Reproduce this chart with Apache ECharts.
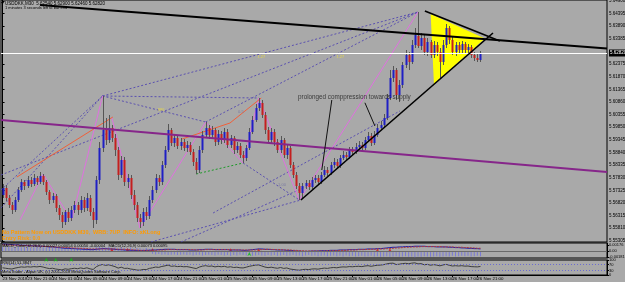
<!DOCTYPE html>
<html><head><meta charset="utf-8">
<script src="https://cdn.jsdelivr.net/npm/echarts@6/dist/echarts.min.js"></script>
<style>html,body{margin:0;padding:0;background:#a9a9a9;}#c{width:625px;height:282px;}</style>
</head><body><div id="c"></div>
<script>
// ---------- DATA ----------
const timeLabels = ["23 Nov 2018","23 Nov 21:00","24 Nov 01:00","24 Nov 05:00","24 Nov 09:00","24 Nov 13:00","24 Nov 17:00","24 Nov 21:00","25 Nov 01:00","25 Nov 05:00","25 Nov 09:00","25 Nov 13:00","25 Nov 17:00","25 Nov 21:00","26 Nov 01:00","26 Nov 05:00","26 Nov 09:00","26 Nov 13:00","26 Nov 17:00","26 Nov 21:00"];
const priceTicks = [5.64900,5.64395,5.63890,5.63385,5.62375,5.61870,5.61365,5.60860,5.60355,5.59850,5.59345,5.58840,5.58335,5.57830,5.57325,5.56820,5.56315,5.55810,5.55305];
const macdTicks = [0.00176, 0, -0.00181];
const rsiTicks = [100, 70, 30, 0];
// [open, close, low, high]
const candles = [
[5.5714,5.5742,5.5702,5.5758],[5.5742,5.5702,5.5690,5.5754],[5.5702,5.5674,5.5662,5.5714],[5.5674,5.5654,5.5638,5.5686],[5.5654,5.5694,5.5646,5.5706],
[5.5694,5.5734,5.5686,5.5746],[5.5734,5.5766,5.5726,5.5778],[5.5766,5.5750,5.5734,5.5774],[5.5750,5.5774,5.5742,5.5790],[5.5774,5.5758,5.5746,5.5786],
[5.5758,5.5782,5.5750,5.5798],[5.5782,5.5766,5.5754,5.5790],[5.5766,5.5790,5.5758,5.5806],[5.5790,5.5766,5.5754,5.5798],[5.5766,5.5726,5.5714,5.5774],
[5.5726,5.5694,5.5678,5.5734],[5.5694,5.5710,5.5682,5.5722],[5.5710,5.5662,5.5646,5.5718],[5.5662,5.5634,5.5614,5.5674],[5.5634,5.5606,5.5582,5.5646],
[5.5606,5.5646,5.5594,5.5654],[5.5646,5.5622,5.5606,5.5662],[5.5622,5.5654,5.5610,5.5670],[5.5654,5.5674,5.5642,5.5690],[5.5674,5.5654,5.5634,5.5686],
[5.5654,5.5694,5.5642,5.5710],[5.5694,5.5662,5.5646,5.5706],[5.5662,5.5702,5.5650,5.5722],[5.5702,5.5646,5.5630,5.5714],[5.5646,5.5614,5.5582,5.5662],
[5.5614,5.5774,5.5598,5.5790],[5.5774,5.5902,5.5758,5.5926],[5.5902,5.5974,5.5886,5.6110],[5.5974,5.5934,5.5914,5.6022],[5.5934,5.5982,5.5922,5.6034],
[5.5982,5.5942,5.5926,5.5994],[5.5942,5.5894,5.5870,5.5958],[5.5894,5.5794,5.5774,5.5906],[5.5794,5.5854,5.5782,5.5870],[5.5854,5.5766,5.5750,5.5866],
[5.5766,5.5782,5.5742,5.5798],[5.5782,5.5714,5.5698,5.5794],[5.5714,5.5674,5.5654,5.5734],[5.5674,5.5622,5.5606,5.5686],[5.5622,5.5606,5.5582,5.5638],
[5.5606,5.5646,5.5590,5.5662],[5.5646,5.5630,5.5614,5.5666],[5.5630,5.5694,5.5618,5.5710],[5.5694,5.5734,5.5682,5.5750],[5.5734,5.5782,5.5722,5.5798],
[5.5782,5.5766,5.5750,5.5794],[5.5766,5.5834,5.5754,5.5850],[5.5834,5.5894,5.5822,5.5910],[5.5894,5.5974,5.5886,5.5998],[5.5974,5.5922,5.5910,5.5982],
[5.5922,5.5942,5.5906,5.5958],[5.5942,5.5910,5.5898,5.5954],[5.5910,5.5926,5.5894,5.5942],[5.5926,5.5902,5.5890,5.5938],[5.5902,5.5914,5.5886,5.5930],
[5.5914,5.5886,5.5874,5.5926],[5.5886,5.5846,5.5830,5.5898],[5.5846,5.5814,5.5798,5.5862],[5.5814,5.5894,5.5802,5.5910],[5.5894,5.5954,5.5882,5.5970],
[5.5954,5.5982,5.5942,5.6006],[5.5982,5.5954,5.5938,5.5994],[5.5954,5.5974,5.5942,5.5990],[5.5974,5.5926,5.5910,5.5982],[5.5926,5.5958,5.5914,5.5974],
[5.5958,5.5934,5.5918,5.5970],[5.5934,5.5966,5.5922,5.5982],[5.5966,5.5914,5.5902,5.5978],[5.5914,5.5942,5.5902,5.5954],[5.5942,5.5894,5.5878,5.5950],
[5.5894,5.5910,5.5882,5.5926],[5.5910,5.5874,5.5862,5.5922],[5.5874,5.5862,5.5842,5.5890],[5.5862,5.5902,5.5850,5.5914],[5.5902,5.5966,5.5894,5.5982],
[5.5966,5.6014,5.5958,5.6030],[5.6014,5.6062,5.6006,5.6078],[5.6062,5.6082,5.6050,5.6102],[5.6082,5.6034,5.6022,5.6094],[5.6034,5.5974,5.5958,5.6046],
[5.5974,5.5934,5.5922,5.5986],[5.5934,5.5966,5.5922,5.5982],[5.5966,5.5926,5.5910,5.5978],[5.5926,5.5894,5.5882,5.5938],[5.5894,5.5934,5.5882,5.5950],
[5.5934,5.5874,5.5862,5.5942],[5.5874,5.5902,5.5858,5.5914],[5.5902,5.5834,5.5822,5.5910],[5.5834,5.5794,5.5782,5.5846],[5.5794,5.5750,5.5738,5.5806],
[5.5750,5.5722,5.5694,5.5762],[5.5722,5.5750,5.5698,5.5762],[5.5750,5.5762,5.5738,5.5774],[5.5762,5.5746,5.5734,5.5774],[5.5746,5.5774,5.5738,5.5786],
[5.5774,5.5782,5.5762,5.5794],[5.5782,5.5766,5.5754,5.5794],[5.5766,5.5794,5.5758,5.5806],[5.5794,5.5814,5.5786,5.5830],[5.5814,5.5802,5.5790,5.5826],
[5.5802,5.5834,5.5794,5.5846],[5.5834,5.5846,5.5822,5.5862],[5.5846,5.5830,5.5818,5.5858],[5.5830,5.5862,5.5822,5.5874],[5.5862,5.5874,5.5854,5.5890],
[5.5874,5.5866,5.5854,5.5886],[5.5866,5.5894,5.5858,5.5906],[5.5894,5.5886,5.5874,5.5906],[5.5886,5.5906,5.5878,5.5922],[5.5906,5.5914,5.5898,5.5930],
[5.5914,5.5902,5.5894,5.5926],[5.5902,5.5934,5.5894,5.5946],[5.5934,5.5950,5.5926,5.5966],[5.5950,5.5922,5.5910,5.5962],[5.5922,5.5954,5.5914,5.5970],
[5.5954,5.5982,5.5946,5.5998],[5.5982,5.5994,5.5974,5.6010],[5.5994,5.6022,5.5986,5.6038],[5.6022,5.6102,5.6014,5.6118],[5.6102,5.6182,5.6094,5.6214],
[5.6182,5.6214,5.6166,5.6230],[5.6214,5.6114,5.6094,5.6222],[5.6114,5.6154,5.6086,5.6174],[5.6154,5.6234,5.6142,5.6246],[5.6234,5.6274,5.6222,5.6294],
[5.6274,5.6246,5.6214,5.6286],[5.6246,5.6314,5.6238,5.6334],[5.6314,5.6354,5.6302,5.6382],[5.6350,5.6310,5.6302,5.6446],[5.6310,5.6342,5.6294,5.6362],
[5.6342,5.6286,5.6274,5.6354],[5.6286,5.6326,5.6270,5.6342],[5.6326,5.6274,5.6262,5.6334],[5.6274,5.6314,5.6262,5.6330],[5.6314,5.6286,5.6270,5.6326],
[5.6286,5.6246,5.6182,5.6302],[5.6246,5.6314,5.6234,5.6334],[5.6314,5.6382,5.6302,5.6398],[5.6382,5.6334,5.6318,5.6390],[5.6334,5.6286,5.6274,5.6350],
[5.6286,5.6314,5.6270,5.6326],[5.6314,5.6294,5.6282,5.6326],[5.6294,5.6318,5.6282,5.6330],[5.6318,5.6294,5.6282,5.6326],[5.6294,5.6306,5.6282,5.6318],
[5.6306,5.6274,5.6262,5.6314],[5.6274,5.6262,5.6250,5.6286],[5.6262,5.6254,5.6246,5.6278],[5.6254,5.6282,5.6246,5.6290]
];
const macdHist = [
0.0012,0.0011,0.0013,0.0010,0.0012,0.0014,0.0011,0.0012,0.0013,0.0010,
0.0011,0.0012,0.0013,0.0011,0.0010,0.0012,0.0009,0.0011,0.0010,0.0012,
0.0009,0.0011,0.0010,0.0008,0.0010,0.0009,0.0011,0.0008,0.0010,0.0009,
0.0012,0.0013,0.0011,0.0010,0.0012,0.0009,0.0011,0.0008,0.0010,0.0009,
0.0008,0.0010,0.0007,0.0009,0.0008,0.0007,0.0009,0.0006,-0.0008,-0.0010,
-0.0009,-0.0011,-0.0010,-0.0012,-0.0011,-0.0010,-0.0012,-0.0011,-0.0010,-0.0012,
-0.0011,-0.0013,-0.0012,-0.0011,-0.0013,-0.0012,-0.0011,-0.0012,-0.0013,-0.0011,
-0.0012,-0.0013,-0.0012,-0.0014,-0.0012,-0.0013,-0.0011,-0.0012,-0.0013,-0.0012,
-0.0014,-0.0013,-0.0012,-0.0013,-0.0014,-0.0012,-0.0013,-0.0012,-0.0014,-0.0013,
-0.0012,-0.0014,-0.0013,-0.0012,-0.0014,-0.0013,-0.0015,-0.0013,-0.0012,-0.0014,
-0.0013,-0.0015,-0.0014,-0.0013,-0.0015,-0.0014,-0.0013,-0.0015,-0.0014,-0.0016,
-0.0013,-0.0015,-0.0014,-0.0016,-0.0015,-0.0014,-0.0016,-0.0015,-0.0014,-0.0016,
-0.0015,-0.0017,-0.0016,-0.0015,-0.0017,-0.0016,-0.0015,-0.0017,-0.0016,-0.0015,
-0.0017,-0.0016,-0.0018,-0.0016,-0.0017,-0.0015,-0.0016,-0.0017,-0.0016,-0.0015,
-0.0017,-0.0016,-0.0015,-0.0016,-0.0014,-0.0016,-0.0015,-0.0014,-0.0015,-0.0014,
-0.0016,-0.0015,-0.0014,-0.0015];
const macdMain = [
0.0020,0.0020,0.0019,0.0019,0.0018,0.0018,0.0017,0.0017,0.0016,0.0016,
0.0015,0.0015,0.0014,0.0014,0.0013,0.0012,0.0012,0.0011,0.0010,0.0009,
0.0008,0.0008,0.0007,0.0007,0.0006,0.0006,0.0005,0.0005,0.0004,0.0004,
0.0005,0.0006,0.0007,0.0007,0.0006,0.0006,0.0005,0.0004,0.0004,0.0003,
0.0003,0.0002,0.0002,0.0001,0.0001,0.0001,0.0002,0.0002,0.0003,0.0003,
0.0004,0.0004,0.0005,0.0005,0.0005,0.0005,0.0004,0.0004,0.0004,0.0004,
0.0003,0.0003,0.0003,0.0004,0.0004,0.0005,0.0005,0.0005,0.0004,0.0004,
0.0004,0.0004,0.0004,0.0003,0.0003,0.0003,0.0003,0.0002,0.0002,0.0003,
0.0004,0.0005,0.0006,0.0006,0.0005,0.0005,0.0004,0.0004,0.0003,0.0003,
0.0003,0.0002,0.0002,0.0001,0.0000,0.0000,-0.0001,-0.0001,-0.0001,0.0000,
0.0000,0.0000,0.0001,0.0001,0.0001,0.0002,0.0002,0.0002,0.0003,0.0003,
0.0003,0.0004,0.0004,0.0004,0.0005,0.0005,0.0005,0.0006,0.0006,0.0006,
0.0007,0.0007,0.0008,0.0009,0.0010,0.0011,0.0011,0.0012,0.0012,0.0013,
0.0013,0.0013,0.0014,0.0014,0.0014,0.0014,0.0013,0.0013,0.0013,0.0012,
0.0012,0.0012,0.0012,0.0011,0.0011,0.0010,0.0010,0.0009,0.0009,0.0008,
0.0008,0.0007,0.0007,0.0006];
const macdSignal = [
0.0018,0.0018,0.0018,0.0017,0.0017,0.0017,0.0016,0.0016,0.0016,0.0015,
0.0015,0.0015,0.0014,0.0014,0.0013,0.0013,0.0012,0.0012,0.0011,0.0011,
0.0010,0.0010,0.0009,0.0009,0.0008,0.0008,0.0007,0.0007,0.0006,0.0006,
0.0006,0.0006,0.0006,0.0006,0.0006,0.0006,0.0006,0.0005,0.0005,0.0005,
0.0004,0.0004,0.0003,0.0003,0.0002,0.0002,0.0002,0.0002,0.0002,0.0002,
0.0003,0.0003,0.0003,0.0004,0.0004,0.0004,0.0004,0.0004,0.0004,0.0004,
0.0004,0.0004,0.0003,0.0003,0.0003,0.0004,0.0004,0.0004,0.0004,0.0004,
0.0004,0.0004,0.0004,0.0004,0.0004,0.0003,0.0003,0.0003,0.0003,0.0003,
0.0003,0.0003,0.0004,0.0004,0.0005,0.0005,0.0005,0.0004,0.0004,0.0004,
0.0003,0.0003,0.0003,0.0002,0.0002,0.0001,0.0001,0.0000,0.0000,0.0000,
0.0000,0.0000,0.0000,0.0000,0.0001,0.0001,0.0001,0.0001,0.0002,0.0002,
0.0002,0.0003,0.0003,0.0003,0.0004,0.0004,0.0004,0.0005,0.0005,0.0005,
0.0006,0.0006,0.0006,0.0007,0.0007,0.0008,0.0009,0.0009,0.0010,0.0011,
0.0011,0.0012,0.0012,0.0012,0.0013,0.0013,0.0013,0.0013,0.0013,0.0013,
0.0013,0.0012,0.0012,0.0012,0.0012,0.0011,0.0011,0.0011,0.0010,0.0010,
0.0009,0.0009,0.0008,0.0008];
const macdRedMarks = [[35,0.0009],[40,0.0009],[48,0.0009],[73,0.0008],[82,0.0008],[120,0.0008],[124,0.0008]];
const macdGreenMarks = [[14,-0.0020],[17,-0.0020],[22,-0.0020],[79,-0.0003]];
const rsi = [
48,45,42,40,46,50,54,52,55,53, 56,54,57,53,47,43,45,40,37,34,
41,38,42,45,42,47,43,48,41,37, 55,65,70,64,68,62,56,46,52,44,
45,40,37,33,32,37,36,44,48,53, 51,57,61,66,58,60,56,58,55,56,
52,47,43,53,59,62,58,60,54,58, 55,58,52,55,50,52,48,47,52,58,
62,66,67,60,53,49,52,48,45,50, 44,47,40,37,34,32,36,38,36,40,
41,39,43,46,44,48,50,48,52,54, 53,56,55,57,58,56,60,62,58,62,
65,66,69,74,78,79,70,72,76,78, 75,79,81,74,76,68,71,65,69,66,
61,67,71,65,60,62,60,62,59,60, 56,55,54,57];
// drawn objects, in [bar index, price]
const blackLines = [
  [[12.0,5.6474],[193.5,5.6300]],
  [[95.5,5.5694],[157.0,5.6362]],
  [[135.2,5.6450],[159.2,5.6330]]
];
const pointerLines = [
  [[105.4,5.6094],[102.2,5.5814]],
  [[116.0,5.6083],[119.2,5.5990]]
];
const purpleLine = [[-0.5,5.6014],[193.5,5.5806]];
const triangle = [[137.05,5.6438],[138.1,5.6158],[154.4,5.6340]];
const dottedLines = [
  [[32,5.6110],[133,5.6446]], [[65,5.6006],[133,5.6446]], [[-0.5,5.5794],[133,5.6446]],
  [[32,5.6110],[82,5.6102]], [[32,5.6110],[65,5.6006]],
  [[-0.5,5.5734],[32,5.6110]], [[-0.5,5.5662],[32,5.6110]],
  [[77,5.5842],[95,5.5694]],
  [[47.5,5.5526],[95.5,5.5694]], [[67.4,5.5642],[127.2,5.6050]], [[57.1,5.5526],[98.4,5.5754]]
];
const magentaLines = [
  [[5.6,5.5614],[13,5.5798],[20.6,5.5642]],
  [[22,5.5610],[32,5.6110]],
  [[35,5.6022],[44,5.5582],[65,5.6006],[77,5.5842],[82,5.6102],[95,5.5694],[133,5.6446]]
];
const orangeLines = [
  [[4.6,5.5786],[35.3,5.6026]],
  [[57.5,5.5938],[72.8,5.6002],[82.8,5.6102]]
];
const greenLine = [[62,5.5798],[77,5.5842]];
const yellowNotes = [{t:'886',at:[49.7,5.6054]},{t:'1.27',at:[81.6,5.6266]},{t:'1.27',at:[106.9,5.6266]}];
const grayNotes = [{t:'0.5',at:[75.4,5.6046]},{t:'1.00',at:[88.2,5.5754]}];
const mainNote = {t:'prolonged comppression towards supply', at:[94.6,5.6106]};

// ---------- CHART ----------
const FONT = '"Liberation Sans", Arial, sans-serif';
const N = 194;
const cats = Array.from({length:N}, (_, i) => String(i));
const last = candles[candles.length - 1];
const lastClose = last[1];
const showTime = (i) => i % 8 === 0 && i / 8 < timeLabels.length;

const chart = echarts.init(document.getElementById('c'), null, {renderer:'canvas'});

const gridBase = {show:true, borderColor:'#000', borderWidth:1, backgroundColor:'transparent', containLabel:false, outerBoundsMode:'none'};
const lineSeries = (pts, color, width, type, z) => ({
  type:'line', xAxisIndex:1, yAxisIndex:0, data:pts, symbol:'none', showSymbol:false, silent:true, z:z || 4,
  lineStyle:{color:color, width:width, type:type || 'solid'}
});

const series = [];
// yellow triangle (background object)
series.push({
  type:'custom', xAxisIndex:1, yAxisIndex:0, data:[[0,5.6]], silent:true, z:1,
  renderItem:(p, api) => ({type:'polygon', shape:{points: triangle.map(pt => api.coord(pt))}, style:{fill:'#ffff00'}})
});
// candles
series.push({
  type:'custom', xAxisIndex:0, yAxisIndex:0, silent:true, z:3,
  data: candles.map((c, i) => [i, c[0], c[1], c[2], c[3]]),
  renderItem:(p, api) => {
    const i = api.value(0);
    const o = api.coord([i, api.value(1)]);
    const c = api.coord([i, api.value(2)]);
    const l = api.coord([i, api.value(3)]);
    const h = api.coord([i, api.value(4)]);
    const rx = Math.round(o[0]);
    const up = api.value(2) >= api.value(1);
    const top = Math.min(o[1], c[1]);
    return {type:'group', children:[
      {type:'line', shape:{x1:rx+0.5, y1:h[1], x2:rx+0.5, y2:l[1]}, style:{stroke:'#555555', lineWidth:1}},
      {type:'rect', shape:{x:rx-0.5, y:top, width:2, height:Math.max(1, Math.abs(o[1]-c[1]))}, style:{fill: up ? '#1f1fc4' : '#c41f1f'}}
    ]};
  }
});
dottedLines.forEach(l => series.push(lineSeries(l, '#5a50b0', 1, [2,2], 2)));
series.push(lineSeries(greenLine, '#1f9a2a', 1, [2,2], 2));
magentaLines.forEach(l => series.push(lineSeries(l, '#e070e0', 1, 'solid', 2)));
orangeLines.forEach(l => series.push(lineSeries(l, '#f0603a', 1, 'solid', 2)));
const purple = lineSeries(purpleLine, '#86268a', 2, 'solid', 4);
purple.markLine = {
  silent:true, symbol:['none','none'], animation:false, precision:5,
  data:[{yAxis:lastClose}],
  lineStyle:{color:'#ffffff', width:1, type:'solid'},
  label:{show:true, position:'end', formatter: lastClose.toFixed(5), color:'#fff', backgroundColor:'#000',
         fontSize:4.5, fontFamily:FONT, padding:[1,1,1,1], distance:2}
};
series.push(purple);
blackLines.forEach((l, k) => series.push(lineSeries(l, '#000', k === 0 ? 2 : 1.6, 'solid', 5)));
pointerLines.forEach(l => series.push(lineSeries(l, '#111', 1, 'solid', 5)));
// notes
const noteSeries = (notes, color, size, weight) => ({
  type:'scatter', xAxisIndex:1, yAxisIndex:0, symbolSize:0, silent:true, z:6,
  data: notes.map(n => ({value:n.at, name:n.t})),
  label:{show:true, formatter:'{b}', position:'right', distance:0, color:color, fontSize:size, fontFamily:FONT, fontWeight:weight || 'normal'}
});
series.push(noteSeries(yellowNotes, '#f2e23a', 4));
series.push(noteSeries(grayNotes, '#7070a0', 4));
series.push(noteSeries([mainNote], '#1a1a1a', 6.3));
// MACD window
series.push({type:'bar', xAxisIndex:2, yAxisIndex:1, data:macdHist, barWidth:1, silent:true,
  itemStyle:{color:'#7a7ad6'},
  markLine:{silent:true, symbol:['none','none'], precision:5, data:[{yAxis:0}], lineStyle:{color:'#6a6a6a', width:1, type:'solid'}, label:{show:false}}});
series.push({type:'line', xAxisIndex:2, yAxisIndex:1, data:macdMain, symbol:'none', silent:true, lineStyle:{color:'#1c1ca8', width:1}});
series.push({type:'line', xAxisIndex:2, yAxisIndex:1, data:macdSignal, symbol:'none', silent:true, lineStyle:{color:'#b03838', width:1, type:[2,1]}});
series.push({type:'scatter', xAxisIndex:2, yAxisIndex:1, data:macdRedMarks, symbol:'arrow', symbolSize:[3,4], silent:true, itemStyle:{color:'#e01010'}});
series.push({type:'scatter', xAxisIndex:2, yAxisIndex:1, data:macdGreenMarks, symbol:'arrow', symbolSize:[3,4], silent:true, itemStyle:{color:'#10c010'}});
// RSI window
series.push({type:'line', xAxisIndex:3, yAxisIndex:2, data:rsi, symbol:'none', silent:true, lineStyle:{color:'#3c3c3c', width:1},
  markLine:{silent:true, symbol:['none','none'], data:[{yAxis:70},{yAxis:30}], lineStyle:{color:'#6a6ad0', width:1, type:[1,2]}, label:{show:false}}});

const smallLabel = {fontSize:4.4, color:'#000', fontFamily:FONT, margin:2};
const option = {
  animation:false,
  backgroundColor:'#a9a9a9',
  textStyle:{fontFamily:FONT},
  grid:[
    Object.assign({left:1, top:0, width:606, height:242}, gridBase),
    Object.assign({left:1, top:243, width:606, height:15}, gridBase),
    Object.assign({left:1, top:260, width:606, height:15}, gridBase)
  ],
  xAxis:[
    {type:'category', gridIndex:0, data:cats, boundaryGap:true, show:false},
    {type:'value', gridIndex:0, min:-0.5, max:N-0.5, show:false},
    {type:'category', gridIndex:1, data:cats, boundaryGap:true, show:false},
    {type:'category', gridIndex:2, data:cats, boundaryGap:true,
      axisLine:{show:true, lineStyle:{color:'#000'}},
      axisTick:{show:true, interval:showTime, alignWithLabel:true, length:2, lineStyle:{color:'#000'}},
      axisLabel:Object.assign({show:true, interval:0, hideOverlap:false, align:'left',
        formatter:(v, i) => showTime(i) ? timeLabels[i/8] : ''}, smallLabel),
      splitLine:{show:false}}
  ],
  yAxis:[
    {type:'value', gridIndex:0, position:'right', min:5.5526, max:5.6494,
      axisLine:{show:true, lineStyle:{color:'#000'}},
      axisTick:{show:true, customValues:priceTicks, length:2, lineStyle:{color:'#000'}},
      axisLabel:Object.assign({show:true, customValues:priceTicks, formatter:v => v.toFixed(5)}, smallLabel, {fontSize:4.5}),
      splitLine:{show:false}},
    {type:'value', gridIndex:1, position:'right', min:-0.00205, max:0.00235,
      axisLine:{show:true, lineStyle:{color:'#000'}},
      axisTick:{show:true, customValues:macdTicks, length:2, lineStyle:{color:'#000'}},
      axisLabel:Object.assign({show:true, customValues:macdTicks, fontSize:4, formatter:v => v === 0 ? '0.00' : v.toFixed(5)}, {color:'#000', fontFamily:FONT, margin:2}),
      splitLine:{show:false}},
    {type:'value', gridIndex:2, position:'right', min:0, max:100,
      axisLine:{show:true, lineStyle:{color:'#000'}},
      axisTick:{show:true, customValues:rsiTicks, length:2, lineStyle:{color:'#000'}},
      axisLabel:Object.assign({show:true, customValues:rsiTicks, fontSize:4, formatter:v => String(v)}, {color:'#000', fontFamily:FONT, margin:2}),
      splitLine:{show:false}}
  ],
  series:series,
  graphic:[
    {type:'polygon', shape:{points:[[1,2],[4,2],[2.5,4.5]]}, style:{fill:'#000'}, z:10},
    {type:'text', left:5, top:1, z:10, style:{text:'USDDKK,M30  5.62540 5.62900 5.62460 5.62820', fontSize:4.5, fontFamily:FONT, fill:'#000'}},
    {type:'text', left:5, top:6, z:10, style:{text:'1 minutes 3 seconds left to bar end', fontSize:4, fontFamily:FONT, fill:'#000'}},
    {type:'text', left:2, top:229.5, z:10, style:{text:'No Pattern Now on USDDKK M30,  WRB: 7UP  INFO: xKLong', fontSize:5.5, fontWeight:'bold', fontFamily:FONT, fill:'#ff9a00'}},
    {type:'text', left:2, top:235.5, z:10, style:{text:'Entry Risk: 0.0', fontSize:5.5, fontWeight:'bold', fontFamily:FONT, fill:'#ff9a00'}},
    {type:'text', left:2, top:243.5, z:10, style:{text:'MACD_Color(12,26,9) 0.00027 0.00054 0.00050 -0.00004   MACD(12,26,9) 0.00073 0.00095', fontSize:4, fontFamily:FONT, fill:'#000'}},
    {type:'text', left:2, top:260.5, z:10, style:{text:'RSI(14) 51.3847', fontSize:4, fontFamily:FONT, fill:'#000'}},
    {type:'text', left:2, top:270, z:10, style:{text:'MetaTrader - Alpari UK, (c) 2001-2018 MetaQuotes Software Corp.', fontSize:4, fontFamily:FONT, fill:'#000'}}
  ]
};
chart.setOption(option);
</script>
</body></html>
